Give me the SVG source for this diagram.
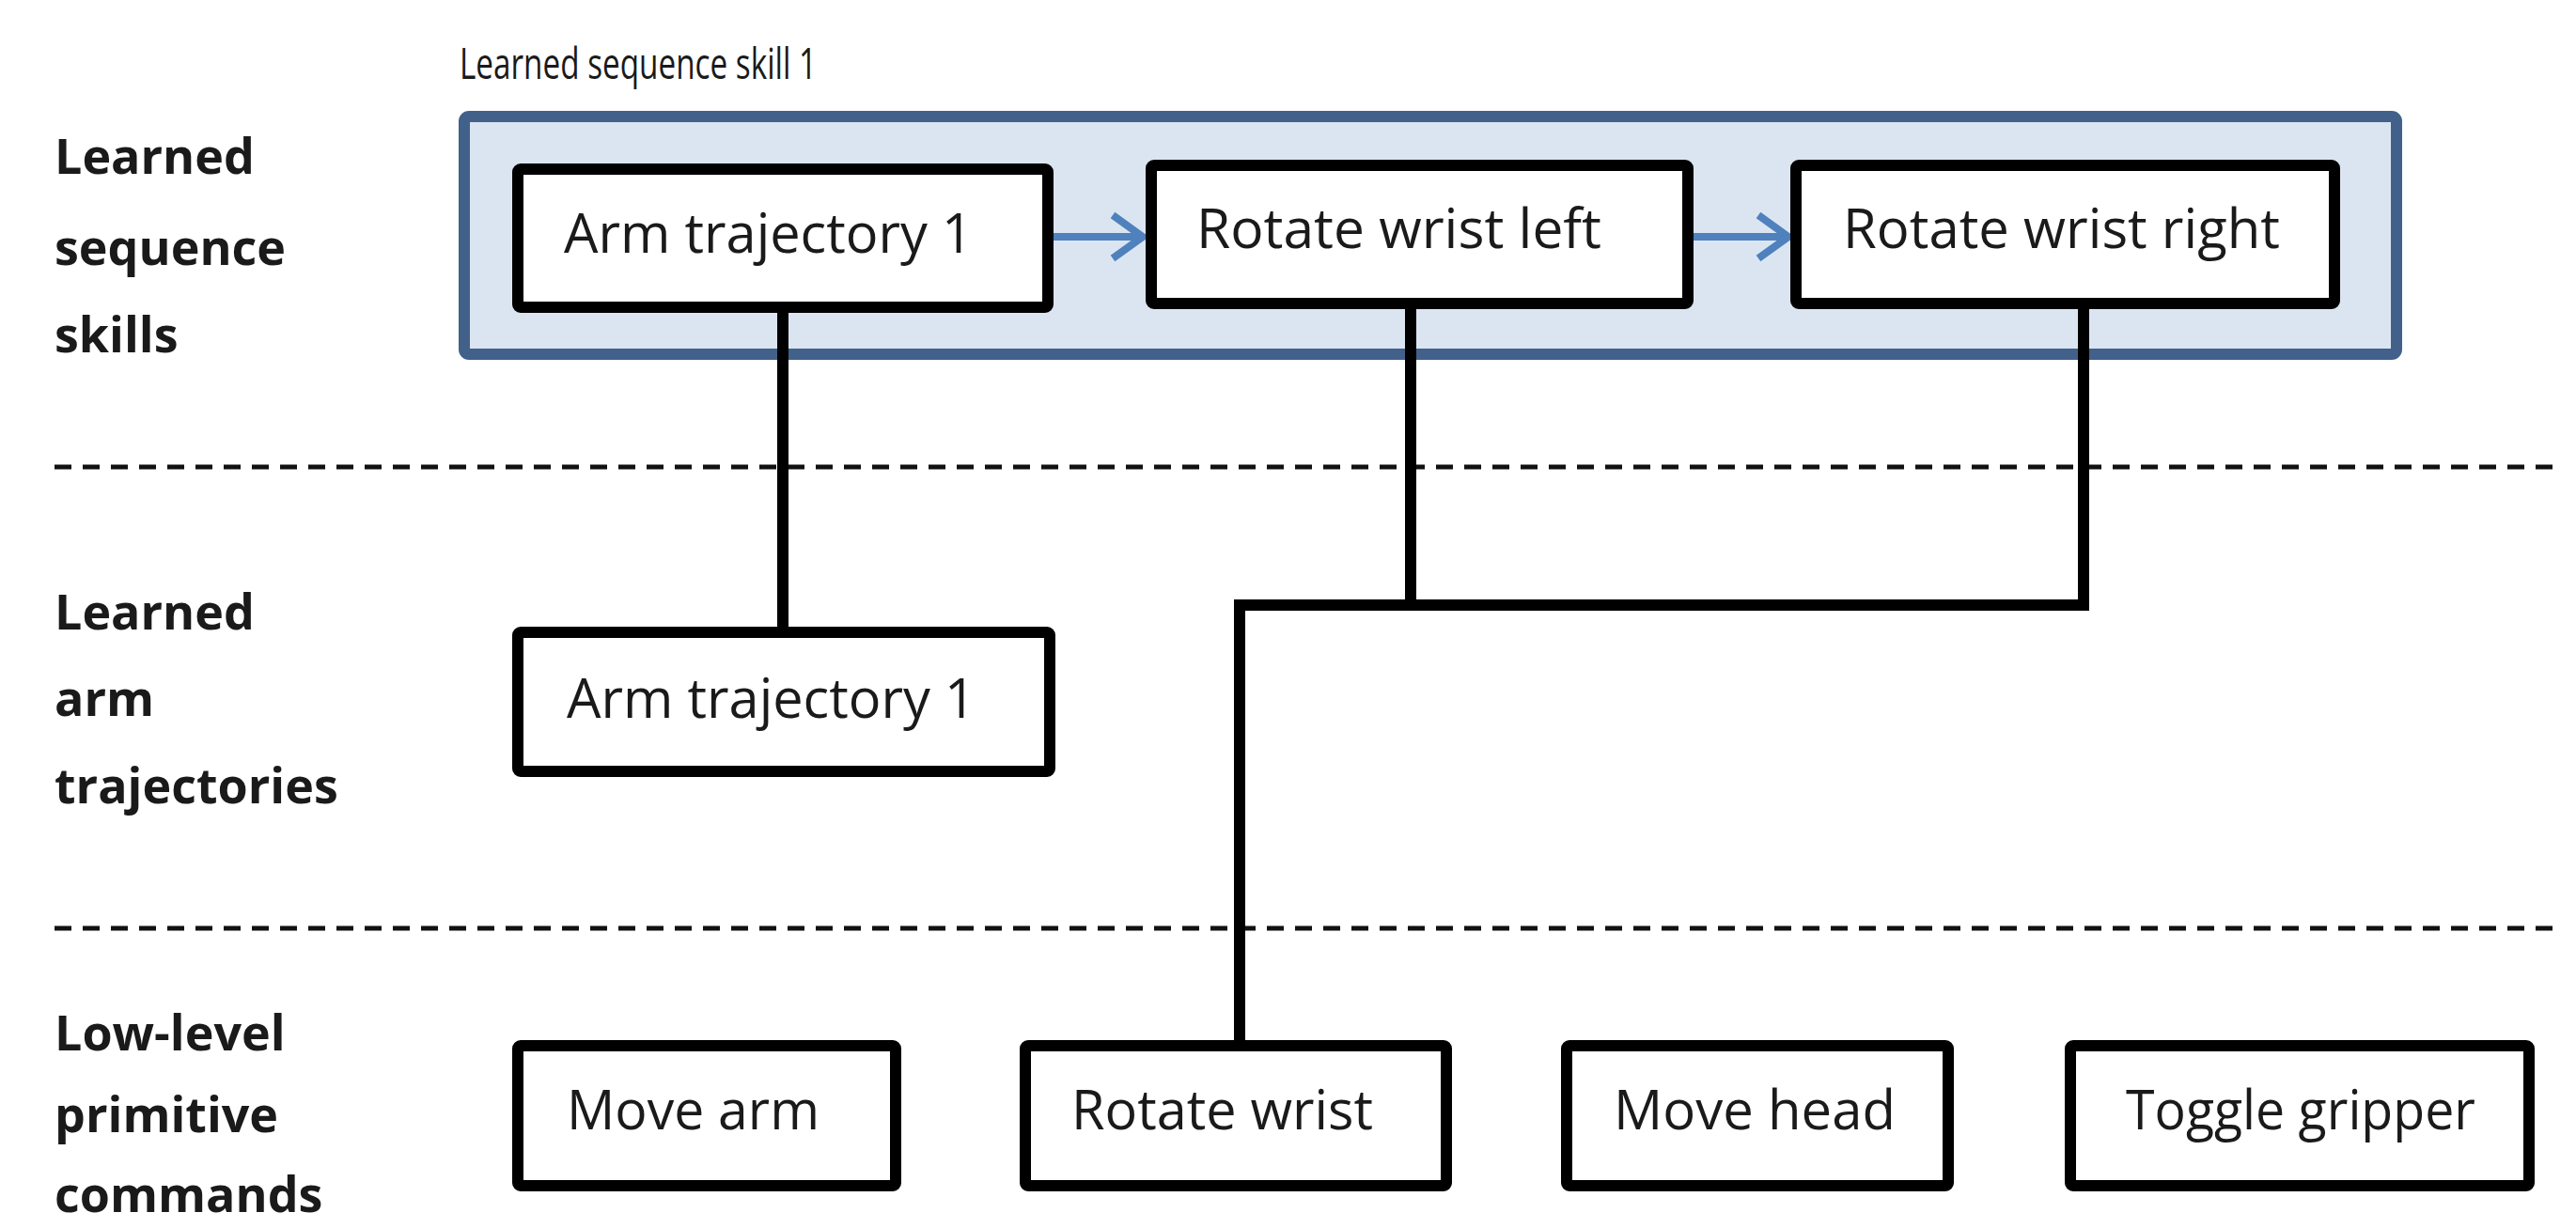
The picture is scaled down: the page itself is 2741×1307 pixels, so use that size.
<svg xmlns="http://www.w3.org/2000/svg" width="2741" height="1307" viewBox="0 0 2741 1307">
  <defs>
    <style>
      .bg { fill: #ffffff; }
      .group { fill: #dbe5f1; stroke: #41618b; stroke-width: 12; }
      .box { fill: #ffffff; stroke: #000000; stroke-width: 12; }
      .txt { font-family: "Open Sans", "Liberation Sans", sans-serif; font-size: 59px; fill: #1a1a1a; }
      .title { font-family: "Open Sans", "Liberation Sans", sans-serif; font-size: 46px; fill: #1a1a1a; }
      .side { font-family: "Open Sans", "Liberation Sans", sans-serif; font-size: 52px; font-weight: bold; fill: #1a1a1a; }
      .conn { fill: none; stroke: #000000; stroke-width: 12; stroke-linejoin: miter; }
      .dash { fill: none; stroke: #111111; stroke-width: 5; stroke-dasharray: 18 12; }
      .seq { fill: none; stroke: #4f81bd; stroke-width: 8; }
    </style>
    <marker id="chev" markerUnits="userSpaceOnUse" viewBox="0 0 44 56" markerWidth="44" markerHeight="56" refX="38" refY="28" orient="auto">
      <path d="M6,5 L38,28 L6,51" fill="none" stroke="#4f81bd" stroke-width="8"/>
    </marker>
  </defs>

  <rect class="bg" x="0" y="0" width="2741" height="1307"/>

  <g id="layer-separators">
    <line class="dash" x1="58" y1="497" x2="2722" y2="497"/>
    <line class="dash" x1="58" y1="988" x2="2722" y2="988"/>
  </g>

  <g id="layer-labels">
    <text class="side" x="58" y="185">Learned</text>
    <text class="side" x="58" y="282">sequence</text>
    <text class="side" x="58" y="375">skills</text>
    <text class="side" x="58" y="670">Learned</text>
    <text class="side" x="58" y="762">arm</text>
    <text class="side" x="58" y="855">trajectories</text>
    <text class="side" x="58" y="1118">Low-level</text>
    <text class="side" x="58" y="1205">primitive</text>
    <text class="side" x="58" y="1290">commands</text>
  </g>

  <g id="sequence-skill-1">
    <text class="title" x="489" y="84" textLength="380" lengthAdjust="spacingAndGlyphs">Learned sequence skill 1</text>
    <rect class="group" x="494" y="124" width="2056" height="253" rx="5"/>
  </g>

  <g id="connectors">
    <path class="conn" d="M833,327 V673"/>
    <path class="conn" d="M1501,323 V644"/>
    <path class="conn" d="M2217,323 V644 H1319 V1112"/>
    <line class="seq" x1="1121" y1="252" x2="1216" y2="252" marker-end="url(#chev)"/>
    <line class="seq" x1="1802" y1="252" x2="1903" y2="252" marker-end="url(#chev)"/>
  </g>

  <g id="seq-arm-trajectory-1">
    <rect class="box" x="551" y="180" width="564" height="147" rx="3"/>
    <text class="txt" x="600" y="269" textLength="435" lengthAdjust="spacingAndGlyphs">Arm trajectory 1</text>
  </g>
  <g id="seq-rotate-wrist-left">
    <rect class="box" x="1225" y="176" width="571" height="147" rx="3"/>
    <text class="txt" x="1273" y="264" textLength="431" lengthAdjust="spacingAndGlyphs">Rotate wrist left</text>
  </g>
  <g id="seq-rotate-wrist-right">
    <rect class="box" x="1911" y="176" width="573" height="147" rx="3"/>
    <text class="txt" x="1961" y="264" textLength="465" lengthAdjust="spacingAndGlyphs">Rotate wrist right</text>
  </g>

  <g id="traj-arm-trajectory-1">
    <rect class="box" x="551" y="673" width="566" height="148" rx="3"/>
    <text class="txt" x="603" y="764" textLength="435" lengthAdjust="spacingAndGlyphs">Arm trajectory 1</text>
  </g>

  <g id="prim-move-arm">
    <rect class="box" x="551" y="1113" width="402" height="149" rx="3"/>
    <text class="txt" x="603" y="1202" textLength="269" lengthAdjust="spacingAndGlyphs">Move arm</text>
  </g>
  <g id="prim-rotate-wrist">
    <rect class="box" x="1091" y="1113" width="448" height="149" rx="3"/>
    <text class="txt" x="1140" y="1202" textLength="321" lengthAdjust="spacingAndGlyphs">Rotate wrist</text>
  </g>
  <g id="prim-move-head">
    <rect class="box" x="1667" y="1113" width="406" height="149" rx="3"/>
    <text class="txt" x="1717" y="1202" textLength="300" lengthAdjust="spacingAndGlyphs">Move head</text>
  </g>
  <g id="prim-toggle-gripper">
    <rect class="box" x="2203" y="1113" width="488" height="149" rx="3"/>
    <text class="txt" x="2262" y="1202" textLength="372" lengthAdjust="spacingAndGlyphs">Toggle gripper</text>
  </g>
</svg>
